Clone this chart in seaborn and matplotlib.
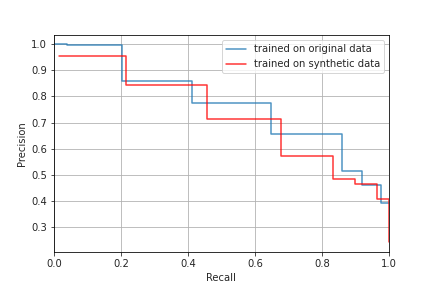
import matplotlib
matplotlib.use("Agg")
import matplotlib.pyplot as plt
import seaborn as sns
import pandas as pd

# Data
recall_orig = [0.0, 0.04, 0.204, 0.413, 0.647, 0.859, 0.920, 0.978, 1.0]
precision_orig = [1.0, 0.996, 0.859, 0.774, 0.656, 0.515, 0.462, 0.394, 0.394]

recall_syn = [0.015, 0.216, 0.457, 0.679, 0.834, 0.898, 0.964, 1.0, 1.0]
precision_syn = [0.954, 0.844, 0.712, 0.574, 0.486, 0.465, 0.408, 0.408, 0.245]

label_orig = "trained on original data"
label_syn = "trained on synthetic data"

sns.set_style("ticks")
plt.rcParams["font.family"] = ["DejaVu Sans"]
plt.rcParams["axes.edgecolor"] = "black"

fig = plt.figure(figsize=(6, 4), dpi=72)
ax = fig.add_axes([0.125, 0.125, 0.775, 0.753])

df_o = pd.DataFrame({"Recall": recall_orig, "Precision": precision_orig})
df_s = pd.DataFrame({"Recall": recall_syn, "Precision": precision_syn})

sns.lineplot(data=df_o, x="Recall", y="Precision", ax=ax, sort=False, estimator=None,
             drawstyle="steps-post", color="#1f77b4", alpha=0.8, linewidth=1.5,
             label=label_orig)
sns.lineplot(data=df_s, x="Recall", y="Precision", ax=ax, sort=False, estimator=None,
             drawstyle="steps-post", color="red", alpha=0.8, linewidth=1.5,
             label=label_syn)

ax.set_xlim(0.0, 1.0)
ax.set_ylim(0.206, 1.034)
ax.grid(True, color="#b0b0b0", linewidth=0.8)
ax.set_axisbelow(True)
ax.set_xlabel("Recall", fontsize=10)
ax.set_ylabel("Precision", fontsize=10)
ax.tick_params(labelsize=10, direction="out", length=3.5, width=0.8)
for s in ax.spines.values():
    s.set_linewidth(0.8)
    s.set_color("black")
leg = ax.legend(loc="upper right", fontsize=10, frameon=True)

fig.savefig("out.png", dpi=72)
